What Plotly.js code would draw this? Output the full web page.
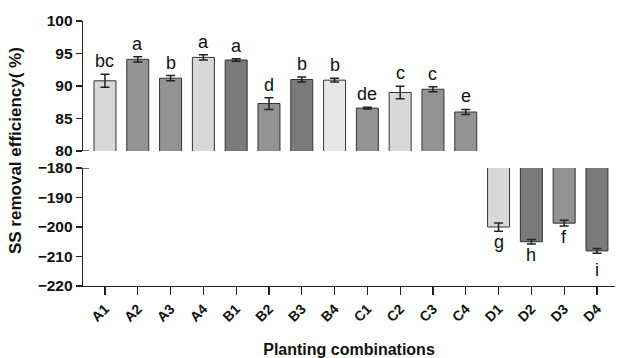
<!DOCTYPE html>
<html>
<head>
<meta charset="utf-8">
<script src="https://cdn.plot.ly/plotly-3.0.1.min.js"></script>
<style>html,body{margin:0;padding:0;background:#fff;}#chart{width:617px;height:358px;}</style>
</head>
<body>
<div id="chart"></div>
<script>
// Data
const upperCategories = ["A1","A2","A3","A4","B1","B2","B3","B4","C1","C2","C3","C4"];
const upperValues = [90.8, 94.1, 91.2, 94.4, 94.0, 87.3, 91.0, 90.9, 86.6, 89.0, 89.5, 86.0];
const upperErrors = [1.0, 0.4, 0.4, 0.4, 0.2, 0.9, 0.4, 0.3, 0.15, 0.95, 0.4, 0.4];
const upperLetters = ["bc","a","b","a","a","d","b","b","de","c","c","e"];
const upperColors = ["#d8d8d8","#939393","#939393","#d8d8d8","#7a7a7a","#939393","#7a7a7a","#e6e6e6","#939393","#d8d8d8","#939393","#939393"];

const lowerCategories = ["D1","D2","D3","D4"];
const lowerValues = [-200.0, -205.0, -198.7, -208.1];
const lowerErrors = [1.4, 0.8, 1.0, 0.8];
const lowerLetters = ["g","h","f","i"];
const lowerColors = ["#d8d8d8","#7a7a7a","#939393","#7a7a7a"];

const allCategories = upperCategories.concat(lowerCategories);
const upperTicks = [80, 85, 90, 95, 100];
const lowerTicks = [-220, -210, -200, -190, -180];

const FONT = "Liberation Sans, Arial, sans-serif";

const traces = [
  {
    type: "bar", x: upperCategories, y: upperValues, xaxis: "x", yaxis: "y2",
    width: 0.67,
    marker: {color: upperColors, line: {color: "#333", width: 1}},
    error_y: {type: "data", array: upperErrors, visible: true, color: "#222", thickness: 1.5, width: 4.5},
    hoverinfo: "skip"
  },
  {
    type: "bar", x: lowerCategories, y: lowerValues, xaxis: "x", yaxis: "y",
    width: 0.67,
    marker: {color: lowerColors, line: {color: "#333", width: 1}},
    error_y: {type: "data", array: lowerErrors, visible: true, color: "#222", thickness: 1.5, width: 4.5},
    hoverinfo: "skip"
  }
];

const annotations = [];
upperCategories.forEach((c, i) => {
  annotations.push({
    x: c, y: upperValues[i] + upperErrors[i], xref: "x", yref: "y2",
    text: upperLetters[i], showarrow: false, yanchor: "bottom", yshift: 1,
    font: {family: FONT, size: 18, color: "#111"}
  });
});
lowerCategories.forEach((c, i) => {
  annotations.push({
    x: c, y: lowerValues[i] - lowerErrors[i], xref: "x", yref: "y",
    text: lowerLetters[i], showarrow: false, yanchor: "top", yshift: (lowerLetters[i] === "i" ? -5 : 1),
    font: {family: FONT, size: 18, color: "#111"}
  });
});
annotations.push({
  x: 0, xref: "paper", xshift: -68, y: 0.489, yref: "paper",
  text: "<b>SS removal efficiency( %)</b>", textangle: -90, showarrow: false,
  xanchor: "center", yanchor: "middle",
  font: {family: FONT, size: 17, color: "#111"}
});

const shapes = [
  {type: "line", xref: "paper", xsizemode: "pixel", xanchor: 0, x0: 0, x1: 6, yref: "y2", y0: 80, y1: 80, line: {color: "#222", width: 1.3}},
  {type: "line", xref: "paper", xsizemode: "pixel", xanchor: 0, x0: 0, x1: 6, yref: "y", y0: -180, y1: -180, line: {color: "#222", width: 1.3}}
];

const layout = {
  width: 617, height: 358,
  margin: {l: 83, r: 2, t: 10, b: 72},
  paper_bgcolor: "#fff", plot_bgcolor: "#fff",
  showlegend: false,
  font: {family: FONT, color: "#111"},
  xaxis: {
    type: "category", categoryorder: "array", categoryarray: allCategories,
    range: [-0.67, 15.55], anchor: "y",
    showline: true, linecolor: "#222", linewidth: 1.3,
    ticks: "outside", ticklen: 8, tickwidth: 1.3, tickcolor: "#222",
    tickangle: -45, showgrid: false, zeroline: false,
    tickfont: {family: FONT, size: 14, color: "#111", weight: "bold"},
    title: {text: "<b>Planting combinations</b>", font: {family: FONT, size: 16, color: "#111"}, standoff: 20}
  },
  yaxis: {
    domain: [0, 0.4275], range: [-220, -180], tickvals: lowerTicks,
    showline: true, linecolor: "#222", linewidth: 1.3,
    ticks: "outside", ticklen: 6, tickwidth: 1.3, tickcolor: "#222",
    showgrid: false, zeroline: false,
    tickfont: {family: FONT, size: 15.5, color: "#111", weight: "bold"}
  },
  yaxis2: {
    domain: [0.4891, 0.9601], range: [80, 100], tickvals: upperTicks, anchor: "x",
    showline: true, linecolor: "#222", linewidth: 1.3,
    ticks: "outside", ticklen: 6, tickwidth: 1.3, tickcolor: "#222",
    showgrid: false, zeroline: false,
    tickfont: {family: FONT, size: 15.5, color: "#111", weight: "bold"}
  },
  annotations: annotations,
  shapes: shapes
};

Plotly.newPlot("chart", traces, layout, {displayModeBar: false, staticPlot: true});
</script>
</body>
</html>
